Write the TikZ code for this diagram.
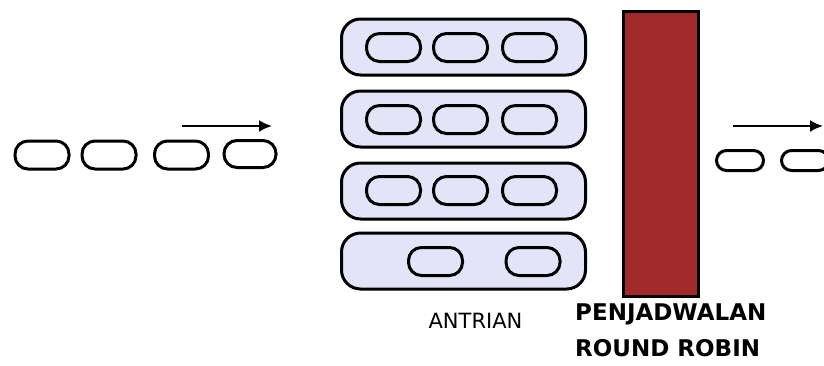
\documentclass[tikz,border=0pt]{standalone}
\usepackage{fontspec}
\setmainfont{DejaVu Sans}
\usetikzlibrary{arrows.meta}
\definecolor{queuefill}{RGB}{228,228,248}
\definecolor{barred}{RGB}{160,42,42}

\begin{document}
\begin{tikzpicture}[x=1pt,y=-1pt,
		tok/.style={draw, line width=3pt, rounded corners=13pt, minimum width=54pt, minimum height=28pt, inner sep=0pt},
		smalltok/.style={tok, rounded corners=10pt, minimum width=47pt, minimum height=20pt},
		queue/.style={draw, line width=3pt, fill=queuefill, rounded corners=19pt, minimum width=244pt, minimum height=56pt, inner sep=0pt},
		flow/.style={line width=2.2pt, -{Latex[length=13pt,width=12pt]}}]
		\clip (0, 0) rectangle (824, 365);
		%%%%%%%%%%%%%
		\node[tok] (in1) at (42, 155) {};
		\node[tok] (in2) at (109, 155) {};
		\node[tok] (in3) at (181.5, 155) {};
		\node[tok, minimum width=52pt, minimum height=27pt] (in4) at (250, 154) {};
		\coordinate (inA) at (182, 126);
		\coordinate (inB) at (272, 126);
		%%%%%%%%%%%%%
		\node[queue] (q1) at (463.5, 47) {};
		\node[queue] (q2) at (463.5, 119) {};
		\node[queue] (q3) at (463.5, 191) {};
		\node[queue] (q4) at (463.5, 261) {};
		\node[tok] (p11) at (393.5, 47.5) {};
		\node[tok] (p12) at (460.5, 47.5) {};
		\node[tok] (p13) at (529.5, 47.5) {};
		\node[tok] (p21) at (393.5, 119.5) {};
		\node[tok] (p22) at (460.5, 119.5) {};
		\node[tok] (p23) at (529.5, 119.5) {};
		\node[tok] (p31) at (393.5, 190.5) {};
		\node[tok] (p32) at (460.5, 190.5) {};
		\node[tok] (p33) at (529.5, 190.5) {};
		\node[tok] (p41) at (435.5, 261.5) {};
		\node[tok] (p42) at (533, 261.5) {};
		%%%%%%%%%%%%%
		\node[draw, line width=3pt, fill=barred, minimum width=75pt, minimum height=285pt, inner sep=0pt] (rr) at (661, 154) {};
		\node[smalltok] (out1) at (740, 160.5) {};
		\node[smalltok] (out2) at (805, 160.5) {};
		\coordinate (outA) at (733, 126);
		\coordinate (outB) at (823, 126);
		%%%%%%%%%%%%%
		\node[font=\fontsize{21}{25}\selectfont] (antrian) at (475.5, 321) {ANTRIAN};
		\node[font=\fontsize{23}{36}\selectfont\bfseries, align=left, anchor=north west, inner sep=0pt] (label) at (575, 304) {PENJADWALAN\\ROUND ROBIN};
		%%%%%%%%%%%%%
		\draw[flow] (inA) to (inB);
		\draw[flow] (outA) to (outB);
	\end{tikzpicture}
\end{document}
